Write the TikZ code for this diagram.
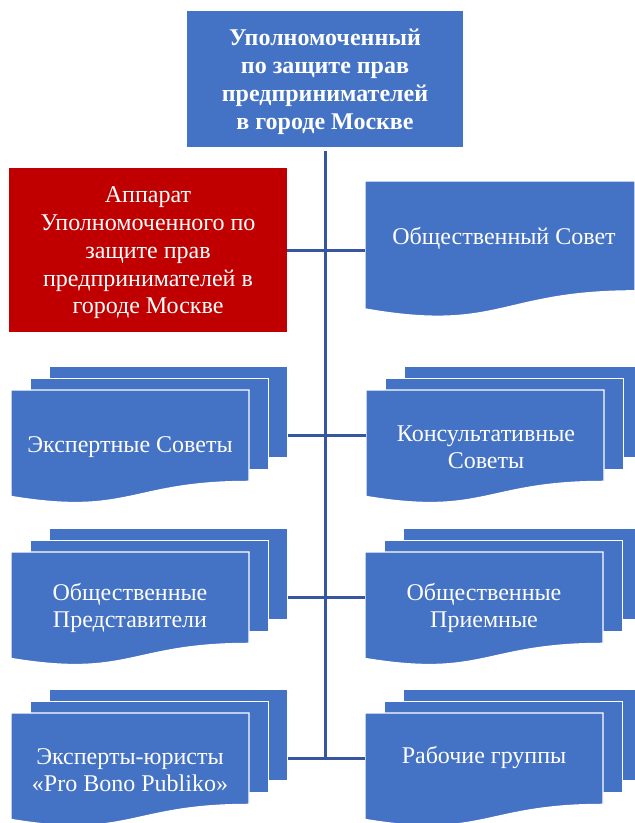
\documentclass[tikz,border=0pt]{standalone}
\usepackage{fontspec}
\setmainfont{Liberation Serif}
\definecolor{docblue}{HTML}{4472C4}
\definecolor{boxred}{HTML}{C00000}
\definecolor{linkblue}{HTML}{3656A0}
\tikzset{
  docfill/.style={fill=docblue, draw=white, line width=1.4pt},
  backbox/.style={docfill, rectangle, anchor=north west, inner sep=0pt, minimum width=238pt, minimum height=91pt},
  anchorbox/.style={rectangle, anchor=north west, inner sep=0pt, minimum width=238pt, minimum height=91pt},
  label/.style={text=white, font=\fontsize{24}{27.5}\selectfont, align=center, inner sep=0pt},
  conn/.style={draw=linkblue, line width=2.6pt},
}
\newcommand\docpath[4]{%
  \path[docfill] (#1,#2) -- ({#1+#3},#2) -- ({#1+#3},{#2+0.802*#4})
    .. controls ({#1+#3/2},{#2+0.802*#4}) and ({#1+#3/2},{#2+1.1075*#4}) .. (#1,{#2+0.934*#4}) -- cycle;}
% name, x, y (front top-left)
\newcommand\multidoc[3]{%
  \node[backbox] (#1b) at ({#2+38},{#3-24}) {};
  \node[backbox] (#1m) at ({#2+19},{#3-12}) {};
  \docpath{#2}{#3}{238}{114}
  \node[anchorbox] (#1) at (#2,#3) {};}
\begin{document}
\begin{tikzpicture}[x=1pt,y=-1pt]
\clip (0,0) rectangle (635,823);
\fill[white] (0,0) rectangle (635,823);
% top box
\node[fill=docblue, rectangle, anchor=north west, minimum width=276pt, minimum height=136pt, inner sep=0pt] (top) at (187,11) {};
\node[label, font=\fontsize{24}{28}\selectfont\bfseries] (topt) at (325,82) {Уполномоченный\\по защите прав\\предпринимателей\\в городе Москве};
% red box
\node[fill=boxred, rectangle, anchor=north west, minimum width=278pt, minimum height=164pt, inner sep=0pt] (red) at (9,168) {};
\node[label, font=\fontsize{24}{27.8}\selectfont] (redt) at (148,253) {Аппарат\\Уполномоченного по\\защите прав\\предпринимателей в\\городе Москве};
% public council
\docpath{365}{181}{270}{137}
\node[rectangle, anchor=north west, inner sep=0pt, minimum width=270pt, minimum height=110pt] (os) at (365,181) {};
\node[label] (ost) at (504,238) {Общественный Совет};
% stacks
\multidoc{es}{11}{390}
\node[label] (est) at (130,447) {Экспертные Советы};
\multidoc{ks}{366}{390}
\node[label, font=\fontsize{24}{27}\selectfont] (kst) at (486,447) {Консультативные\\Советы};
\multidoc{op}{11}{552}
\node[label, font=\fontsize{24}{27}\selectfont] (opt) at (130,608) {Общественные\\Представители};
\multidoc{opr}{365}{552}
\node[label, font=\fontsize{24}{27}\selectfont] (oprt) at (484,608) {Общественные\\Приемные};
\multidoc{ey}{11}{713}
\node[label, font=\fontsize{24}{27}\selectfont] (eyt) at (130,770) {Эксперты-юристы\\«Pro Bono Publiko»};
\multidoc{rg}{365}{713}
\node[label] (rgt) at (484,757) {Рабочие группы};
% connectors
\coordinate (spine) at ([yshift=-4pt]top.south);
\draw[conn] (spine) -- (spine |- rg.west) -- (rg.west);
\draw[conn] (red.east) -- (red.east -| os.west);
\draw[conn] (es.east -| esb.east) -- (ks.west);
\draw[conn] (op.east -| opb.east) -- (opr.west);
\draw[conn] (ey.east -| eyb.east) -- (spine |- ey.east);
\end{tikzpicture}
\end{document}
